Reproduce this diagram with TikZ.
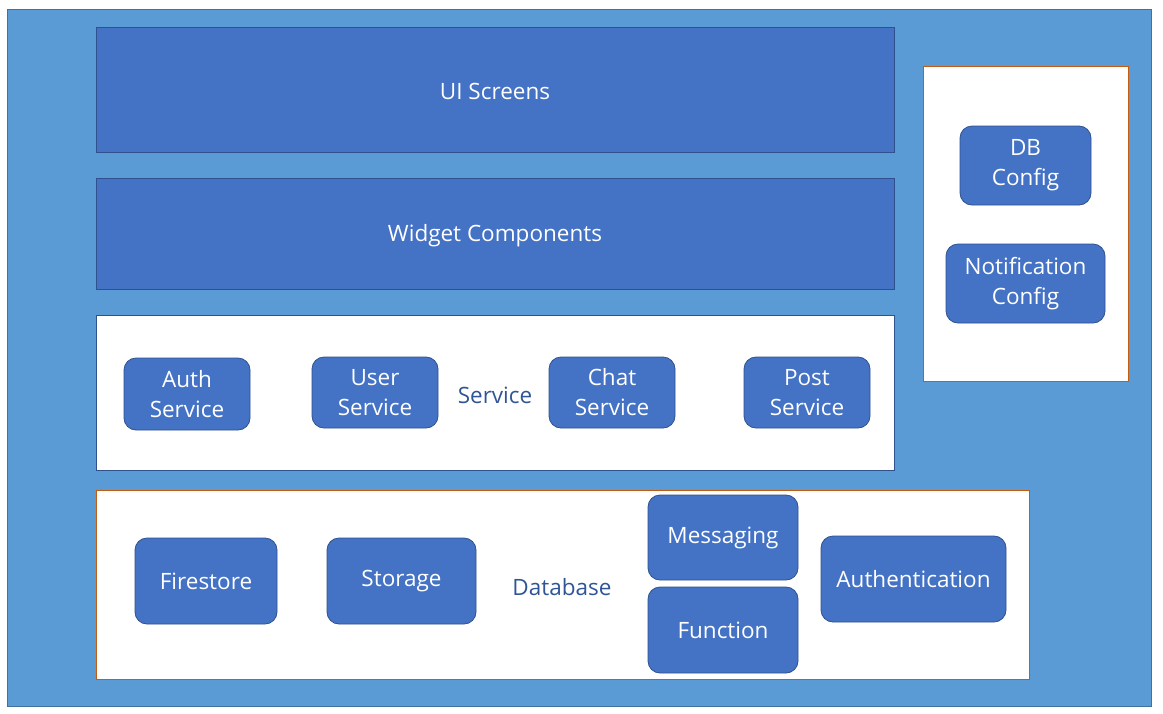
\documentclass[tikz,border=0pt]{standalone}
\usepackage{fontspec}
\setmainfont{Open Sans}
\usepackage{xcolor}
\definecolor{bgblue}{HTML}{5B9BD5}
\definecolor{bgedge}{HTML}{41719C}
\definecolor{boxblue}{HTML}{4472C4}
\definecolor{boxedge}{HTML}{2F528F}
\definecolor{panelorange}{HTML}{C55A11}
\definecolor{labelblue}{HTML}{2F5597}
\tikzset{
	layer/.style={draw=boxedge, fill=boxblue, line width=0.8pt, text=white, inner sep=0pt},
	panel/.style={fill=white, line width=0.8pt, inner sep=0pt},
	comp/.style={draw=boxedge, fill=boxblue, line width=0.8pt, rounded corners=12pt, text=white, align=center, inner sep=0pt},
	tag/.style={text=labelblue}
}

\begin{document}
\begin{tikzpicture}[x=1pt, y=-1pt, font=\fontsize{22.5}{30}\selectfont]
		\useasboundingbox (0,0) rectangle (1163,713);
		\draw[fill=bgblue, draw=bgedge, line width=0.8pt] (7,9) rectangle (1151,706);
		
		% layers
		\node[layer, minimum width=798, minimum height=125] (ui) at (495,89.5) {};
		\node at ([yshift=-2pt]ui.center) [text=white] {UI Screens};
		\node[layer, minimum width=798, minimum height=111] (widget) at (495,233.5) {};
		\node at ([yshift=-2pt]widget.center) [text=white] {Widget Components};
		\node[panel, draw=boxedge, minimum width=798, minimum height=155] (service) at (495,392.5) {};
		\node[panel, draw=panelorange, minimum width=933, minimum height=189] (database) at (562.5,584.5) {};
		\node[panel, draw=panelorange, minimum width=205, minimum height=315] (config) at (1025.5,223.5) {};
		
		% service layer
		\node[comp, minimum width=126, minimum height=72] (auth) at (187,394) {Auth\\Service};
		\node[comp, minimum width=126, minimum height=71] (user) at (375,392.5) {User\\Service};
		\node[comp, minimum width=126, minimum height=71] (chat) at (612,392.5) {Chat\\Service};
		\node[comp, minimum width=126, minimum height=71] (post) at (807,392.5) {Post\\Service};
		\node[tag] (servicetag) at (495,395) {Service};
		
		% database layer
		\node[comp, minimum width=142, minimum height=86] (firestore) at (206,581) {Firestore};
		\node[comp, minimum width=149, minimum height=86] (storage) at (401.5,581) {Storage};
		\node[comp, minimum width=150, minimum height=85] (messaging) at (723,537.5) {Messaging};
		\node[comp, minimum width=150, minimum height=86] (function) at (723,630) {Function};
		\node[comp, minimum width=185, minimum height=86] (authn) at (913.5,579) {Authentication};
		\node[tag] (dbtag) at (562,587) {Database};
		
		% config
		\node[comp, minimum width=131, minimum height=79] (dbconfig) at (1025.5,165.5) {DB\\Config};
		\node[comp, minimum width=159, minimum height=79] (notifconfig) at (1025.5,283.5) {Notification\\Config};
	\end{tikzpicture}
\end{document}
